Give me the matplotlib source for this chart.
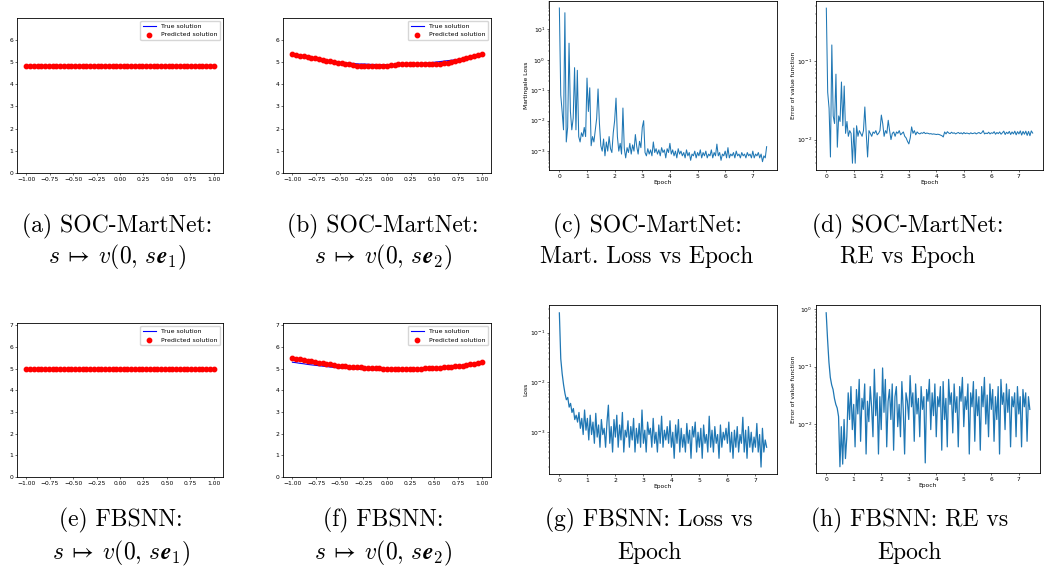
import numpy as np
import matplotlib
matplotlib.use("Agg")
import matplotlib.pyplot as plt

plt.rcParams['mathtext.fontset'] = 'cm'

# grid of s values for the value-function panels
s_grid = np.linspace(-1, 1, 51)

# (a) SOC-MartNet, direction e1
a_true = [4.87] * 51
a_pred = [4.81] * 51

# (b) SOC-MartNet, direction e2
b_true = [5.30, 5.27, 5.23, 5.20, 5.17, 5.15, 5.12, 5.09, 5.07, 5.05, 5.03,
          5.01, 4.99, 4.97, 4.95, 4.94, 4.93, 4.91, 4.90, 4.90, 4.89, 4.88,
          4.88, 4.87, 4.87, 4.87, 4.87, 4.87, 4.88, 4.88, 4.89, 4.90, 4.90,
          4.91, 4.93, 4.94, 4.95, 4.97, 4.99, 5.01, 5.03, 5.05, 5.07, 5.09,
          5.12, 5.15, 5.17, 5.20, 5.23, 5.27, 5.30]
b_pred = [5.34, 5.31, 5.28, 5.24, 5.21, 5.18, 5.15, 5.12, 5.08, 5.05, 5.02,
          4.99, 4.96, 4.93, 4.90, 4.88, 4.86, 4.83, 4.81, 4.80, 4.79, 4.79,
          4.79, 4.79, 4.81, 4.82, 4.84, 4.86, 4.88, 4.89, 4.90, 4.90, 4.90,
          4.90, 4.89, 4.88, 4.88, 4.88, 4.89, 4.90, 4.93, 4.96, 5.00, 5.04,
          5.08, 5.12, 5.17, 5.21, 5.26, 5.31, 5.37]

# (e) FBSNN, direction e1
e_true = [4.94] * 51
e_pred = [5.00] * 51

# (f) FBSNN, direction e2
f_true = [5.29, 5.27, 5.24, 5.22, 5.19, 5.17, 5.15, 5.13, 5.11, 5.09, 5.07,
          5.05, 5.03, 5.02, 5.01, 4.99, 4.98, 4.97, 4.96, 4.96, 4.95, 4.94,
          4.94, 4.93, 4.93, 4.93, 4.93, 4.93, 4.93, 4.93, 4.94, 4.94, 4.95,
          4.95, 4.96, 4.97, 4.99, 5.00, 5.01, 5.03, 5.04, 5.06, 5.08, 5.10,
          5.12, 5.15, 5.17, 5.20, 5.23, 5.26, 5.29]
f_pred = [5.50, 5.46, 5.43, 5.39, 5.36, 5.33, 5.30, 5.27, 5.24, 5.21, 5.19,
          5.17, 5.14, 5.12, 5.10, 5.09, 5.07, 5.06, 5.05, 5.04, 5.03, 5.02,
          5.01, 5.01, 5.00, 5.00, 4.99, 4.99, 4.99, 4.99, 4.99, 4.99, 4.99,
          5.00, 5.00, 5.01, 5.01, 5.02, 5.03, 5.04, 5.05, 5.07, 5.08, 5.10,
          5.12, 5.14, 5.16, 5.19, 5.22, 5.26, 5.30]

# (c) SOC-MartNet martingale loss, epochs 0 .. 7.5
c_loss = [50, 0.07, 0.02, 0.005, 35, 0.002, 0.006, 3.5, 0.02, 0.005,
          0.012, 0.55, 0.005, 0.45, 0.003, 0.002, 0.004, 0.003, 0.006, 0.003,
          0.25, 0.02, 0.12, 0.0015, 0.003, 0.002, 0.005, 0.012, 0.11, 0.008,
          0.0015, 0.001, 0.0025, 0.0007, 0.002, 0.001, 0.003, 0.0012, 0.0009, 0.004,
          0.01, 0.055, 0.003, 0.001, 0.0018, 0.0008, 0.026, 0.0012, 0.0006, 0.0013,
          0.0009, 0.0018, 0.0008, 0.0016, 0.001, 0.0035, 0.0014, 0.0008, 0.0021, 0.0013,
          0.006, 0.01, 0.0009, 0.0007, 0.0012, 0.0008, 0.0011, 0.0007, 0.002, 0.0009,
          0.0012, 0.0008, 0.0011, 0.0007, 0.0013, 0.0009, 0.0011, 0.0006, 0.0012, 0.0009,
          0.0018, 0.0008, 0.0011, 0.0007, 0.0010, 0.0006, 0.0012, 0.0008, 0.0010, 0.0007,
          0.0009, 0.0006, 0.0011, 0.0007, 0.0009, 0.0005, 0.0008, 0.0007, 0.0010, 0.0006,
          0.0009, 0.0007, 0.0011, 0.0006, 0.0009, 0.0007, 0.0010, 0.0006, 0.0008, 0.0007,
          0.0011, 0.0006, 0.0009, 0.0007, 0.0017, 0.0007, 0.0009, 0.0005, 0.0008, 0.0007,
          0.0010, 0.0006, 0.0013, 0.0006, 0.0008, 0.0007, 0.0009, 0.0006, 0.0010, 0.0007,
          0.0008, 0.0006, 0.0009, 0.0007, 0.0008, 0.0006, 0.0009, 0.0007, 0.0008, 0.0006,
          0.0010, 0.0006, 0.0008, 0.0007, 0.0009, 0.0006, 0.0008, 0.00045, 0.0007, 0.0006,
          0.0014]

# (d) SOC-MartNet relative error, epochs 0 .. 7.5
d_err = [0.47, 0.04, 0.025, 0.006, 0.16, 0.02, 0.016, 0.068, 0.008, 0.02,
         0.017, 0.054, 0.015, 0.048, 0.012, 0.017, 0.011, 0.013, 0.012, 0.005,
         0.014, 0.005, 0.015, 0.011, 0.013, 0.012, 0.011, 0.013, 0.026, 0.012,
         0.006, 0.013, 0.012, 0.011, 0.0125, 0.012, 0.013, 0.0115, 0.012, 0.013,
         0.0205, 0.016, 0.011, 0.013, 0.012, 0.0176, 0.013, 0.010, 0.012, 0.0125,
         0.011, 0.0125, 0.012, 0.013, 0.0115, 0.012, 0.0125, 0.011, 0.0105, 0.0095,
         0.0088, 0.0105, 0.0145, 0.012, 0.013, 0.0115, 0.0125, 0.012, 0.0118, 0.0122,
         0.012, 0.0124, 0.0119, 0.0121, 0.012, 0.0118, 0.0119, 0.0117, 0.0118, 0.0117,
         0.0116, 0.0117, 0.0116, 0.0114, 0.0112, 0.0108, 0.0125, 0.0118, 0.0126, 0.0121,
         0.0119, 0.0124, 0.012, 0.0122, 0.0118, 0.0121, 0.0123, 0.0119, 0.0122, 0.0118,
         0.0123, 0.0119, 0.0121, 0.012, 0.0118, 0.0122, 0.0119, 0.012, 0.0122, 0.0118,
         0.0121, 0.0123, 0.0119, 0.0122, 0.013, 0.0118, 0.0121, 0.0119, 0.0124, 0.0118,
         0.0122, 0.012, 0.0126, 0.0117, 0.0123, 0.0119, 0.0125, 0.0117, 0.0122, 0.0128,
         0.0116, 0.0124, 0.0119, 0.0127, 0.0116, 0.0125, 0.0118, 0.0128, 0.0115, 0.0126,
         0.0118, 0.0129, 0.0114, 0.0127, 0.0117, 0.0128, 0.0113, 0.0127, 0.0112, 0.0129,
         0.0121]

# (g) FBSNN loss, epochs 0 .. 7.4
g_loss = [0.25, 0.03, 0.015, 0.009, 0.006, 0.0045, 0.005, 0.0032, 0.0038, 0.0025,
          0.003, 0.0018, 0.0022, 0.0016, 0.0025, 0.0012, 0.0019, 0.0009, 0.0028, 0.0011,
          0.0019, 0.0007, 0.0022, 0.0009, 0.0016, 0.0006, 0.0024, 0.0008, 0.0014, 0.0005,
          0.0018, 0.0009, 0.0012, 0.0005, 0.0016, 0.0035, 0.0006, 0.0013, 0.0004, 0.0018,
          0.0008, 0.0022, 0.0005, 0.0014, 0.0007, 0.0025, 0.0004, 0.0011, 0.0008, 0.0017,
          0.0005, 0.0013, 0.0007, 0.0019, 0.0004, 0.0012, 0.0006, 0.0015, 0.0005, 0.0028,
          0.0006, 0.0011, 0.0004, 0.0016, 0.0009, 0.0012, 0.0005, 0.0019, 0.0006, 0.001,
          0.0004, 0.0014, 0.0006, 0.0021, 0.0005, 0.0011, 0.0007, 0.0013, 0.0006, 0.0017,
          0.0005, 0.001, 0.0003, 0.0014, 0.0006, 0.0018, 0.0004, 0.0012, 0.0005, 0.0009,
          0.0004, 0.0015, 0.0006, 0.0011, 0.0003, 0.0013, 0.0008, 0.0016, 0.0004, 0.001,
          0.0005, 0.0012, 0.0003, 0.0014, 0.0006, 0.0009, 0.0004, 0.0021, 0.0005, 0.0011,
          0.0004, 0.0013, 0.0006, 0.0009, 0.0003, 0.0014, 0.0005, 0.001, 0.0007, 0.0012,
          0.0006, 0.0016, 0.0004, 0.001, 0.0003, 0.0011, 0.0005, 0.0013, 0.0004, 0.0009,
          0.0006, 0.002, 0.0004, 0.0011, 0.0003, 0.0013, 0.0005, 0.001, 0.0004, 0.0008,
          0.0005, 0.0015, 0.0004, 0.0009, 0.0002, 0.0012, 0.0004, 0.0007, 0.0005]

# (h) FBSNN relative error, epochs 0 .. 7.4
h_err = [0.87, 0.3, 0.12, 0.065, 0.048, 0.04, 0.028, 0.022, 0.019, 0.0135,
         0.0018, 0.009, 0.002, 0.012, 0.0025, 0.006, 0.035, 0.012, 0.045, 0.008,
         0.022, 0.004, 0.04, 0.015, 0.06, 0.005, 0.028, 0.018, 0.05, 0.003,
         0.025, 0.011, 0.045, 0.02, 0.006, 0.09, 0.014, 0.035, 0.003, 0.03,
         0.008, 0.095, 0.016, 0.06, 0.004, 0.025, 0.04, 0.012, 0.05, 0.0035,
         0.03, 0.045, 0.009, 0.022, 0.006, 0.055, 0.018, 0.003, 0.035, 0.025,
         0.012, 0.07, 0.02, 0.035, 0.005, 0.05, 0.015, 0.028, 0.006, 0.045,
         0.018, 0.03, 0.0021, 0.04, 0.025, 0.06, 0.008, 0.035, 0.014, 0.05,
         0.006, 0.03, 0.02, 0.045, 0.0035, 0.055, 0.012, 0.028, 0.004, 0.06,
         0.022, 0.035, 0.007, 0.05, 0.016, 0.03, 0.004, 0.045, 0.025, 0.065,
         0.009, 0.03, 0.018, 0.05, 0.003, 0.035, 0.02, 0.055, 0.005, 0.04,
         0.014, 0.03, 0.0035, 0.045, 0.02, 0.065, 0.01, 0.032, 0.006, 0.05,
         0.018, 0.04, 0.005, 0.03, 0.012, 0.045, 0.003, 0.06, 0.022, 0.035,
         0.008, 0.05, 0.016, 0.04, 0.004, 0.03, 0.02, 0.035, 0.006, 0.045,
         0.015, 0.03, 0.004, 0.04, 0.02, 0.035, 0.005, 0.03, 0.018]

captions = {
    'a': ["(a) SOC-MartNet:", r"$s \:\mapsto\: v(0,\, s\mathbfit{e}_1)$"],
    'b': ["(b) SOC-MartNet:", r"$s \:\mapsto\: v(0,\, s\mathbfit{e}_2)$"],
    'c': ["(c) SOC-MartNet:", "Mart. Loss vs Epoch"],
    'd': ["(d) SOC-MartNet:", "RE vs Epoch"],
    'e': ["(e) FBSNN:", r"$s \:\mapsto\: v(0,\, s\mathbfit{e}_1)$"],
    'f': ["(f) FBSNN:", r"$s \:\mapsto\: v(0,\, s\mathbfit{e}_2)$"],
    'g': ["(g) FBSNN: Loss vs", "Epoch"],
    'h': ["(h) FBSNN: RE vs", "Epoch"],
}

W, H = 1044, 578
fig = plt.figure(figsize=(W / 100, H / 100), dpi=100)

FS = 4.3
BLUE = '#1f77b4'


def px_axes(l, t, r, b):
    ax = fig.add_axes([l / W, 1 - b / H, (r - l) / W, (b - t) / H])
    ax.tick_params(labelsize=FS, length=1.6, width=0.4, pad=1)
    ax.tick_params(which='minor', length=0.9, width=0.3)
    for sp in ax.spines.values():
        sp.set_linewidth(0.6)
    return ax


def value_panel(ax, true_y, pred_y, top):
    ax.plot(s_grid, true_y, color='blue', lw=0.8, label='True solution')
    ax.scatter(s_grid, pred_y, color='red', s=10, label='Predicted solution', zorder=3)
    ax.set_ylim(0, top)
    ax.set_xlim(-1.1, 1.1)
    ax.set_xticks([-1, -0.75, -0.5, -0.25, 0, 0.25, 0.5, 0.75, 1])
    ax.legend(loc='upper right', fontsize=4.5, handlelength=2.0, borderpad=0.45,
              labelspacing=0.45, frameon=True, framealpha=0.8)


def loss_panel(ax, vals, xend, ylab, ylim, xlim, lw):
    ep = np.linspace(0, xend, len(vals))
    ax.plot(ep, vals, color=BLUE, lw=lw)
    ax.set_yscale('log')
    ax.set_ylim(*ylim)
    ax.set_xlim(*xlim)
    ax.set_xticks(range(8))
    ax.set_xlabel('Epoch', fontsize=FS, labelpad=1)
    ax.set_ylabel(ylab, fontsize=FS, labelpad=1)


ax_a = px_axes(17, 18, 223, 173)
value_panel(ax_a, a_true, a_pred, 6.97)
ax_b = px_axes(283, 18, 491, 173)
value_panel(ax_b, b_true, b_pred, 6.97)
ax_c = px_axes(549, 1, 777, 170)
loss_panel(ax_c, c_loss, 7.5, 'Martingale Loss', (2.4e-4, 85), (-0.375, 7.875), 0.75)
ax_d = px_axes(816, 1, 1043, 170)
loss_panel(ax_d, d_err, 7.5, 'Error of value function', (0.0041, 0.58), (-0.375, 7.875), 0.75)

ax_e = px_axes(17, 323, 223, 477)
value_panel(ax_e, e_true, e_pred, 7.1)
ax_f = px_axes(283, 323, 491, 477)
value_panel(ax_f, f_true, f_pred, 7.1)
ax_g = px_axes(549, 305, 777, 474)
loss_panel(ax_g, g_loss, 7.4, 'Loss', (1.45e-4, 0.36), (-0.37, 7.77), 0.9)
ax_h = px_axes(816, 305, 1040, 473)
loss_panel(ax_h, h_err, 7.4, 'Error of value function', (1.4e-3, 1.19), (-0.37, 7.77), 0.9)

# captions under each panel
cap_x = {'a': 117, 'b': 383, 'c': 647, 'd': 908, 'e': 121, 'f': 383, 'g': 649, 'h': 910}
for key, (l1, l2) in captions.items():
    y1, y2 = (226, 257) if key in 'abcd' else (520, 553)
    fig.text(cap_x[key] / W, 1 - y1 / H, l1, ha='center', va='center',
             fontsize=17, family='cmr10')
    fig.text(cap_x[key] / W, 1 - y2 / H, l2, ha='center', va='center',
             fontsize=17, family='cmr10')

fig.savefig('out.png', dpi=100)
